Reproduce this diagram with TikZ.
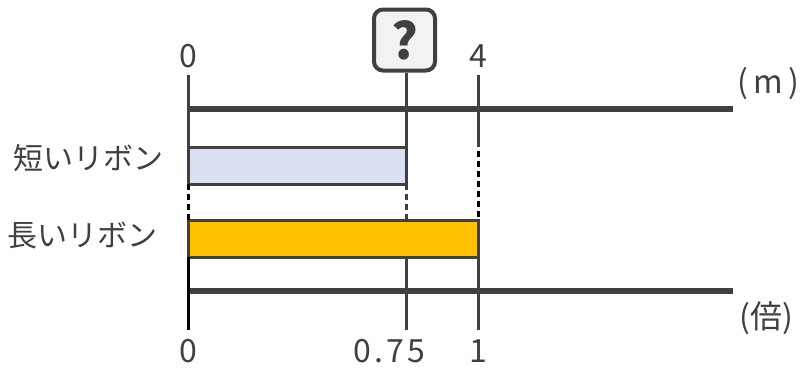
\documentclass[tikz,border=0pt]{standalone}
\usepackage{fontspec}
\setmainfont{Noto Sans CJK JP}
\newfontfamily\numfont{Noto Sans CJK JP}[LetterSpace=10]
\usetikzlibrary{positioning}
\definecolor{linegray}{HTML}{404040}
\definecolor{shortfill}{HTML}{DAE0F2}
\definecolor{longfill}{HTML}{FFC000}
\definecolor{boxfill}{HTML}{F2F2F2}

\begin{document}
\begin{tikzpicture}[x=1pt, y=-1pt]
		\tikzstyle{axis} = [draw=linegray, line width=6pt]
		\tikzstyle{tick} = [draw=linegray, line width=3pt]
		\tikzstyle{guide} = [line width=3pt, dash pattern=on 6pt off 4pt]
		\tikzstyle{ribbon} = [draw=linegray, line width=3pt, anchor=north west, minimum height=37pt, inner sep=0pt, outer sep=0pt]
		\tikzstyle{label} = [text=linegray, inner sep=0pt, font=\fontsize{30}{30}\selectfont]
		\tikzstyle{num} = [text=linegray, inner sep=0pt, font=\fontsize{32}{32}\selectfont\numfont]
		\useasboundingbox (0,0) rectangle (803,367);

		% scale points
		\coordinate (t0) at (188,75);
		\coordinate (tq) at (406,73);
		\coordinate (t4) at (478,75);
		\coordinate (b0) at (188,330);
		\coordinate (bq) at (406,330);
		\coordinate (b1) at (478,330);

		% ribbons
		\node[ribbon, fill=shortfill, minimum width=218pt] (short) at (188,147) {};
		\node[ribbon, fill=longfill, minimum width=290pt] (long) at (188,220) {};

		% axes
		\coordinate (top a) at (188,109);
		\coordinate (top b) at (733,109);
		\coordinate (bot a) at (188,291);
		\coordinate (bot b) at (733,291);
		\draw[axis] (top a) -- (top b);
		\draw[axis] (bot a) -- (bot b);

		% solid ticks
		\draw[tick] (t0) -- (short.north west);
		\draw[tick] (tq) -- (short.north east);
		\draw[tick] (t4) -- (478,147);
		\draw[tick, draw=black] (long.south west) -- (b0);
		\draw[tick] (406,257) -- (bq);
		\draw[tick] (long.south east) -- (b1);

		% dashed guides
		\draw[guide, black] (short.south west) -- (long.north west);
		\draw[guide, linegray] (short.south east) -- (406,220);
		\draw[guide, black] (478,151) -- (long.north east);

		% question box
		\node[draw=linegray, line width=4pt, fill=boxfill, rounded corners=9pt, minimum size=61pt, inner sep=0pt, font=\fontsize{50}{50}\selectfont\bfseries, text=linegray] (q) at (404.5,40) {?};

		% numbers
		\node[num] (n0) at (188,56) {0};
		\node[num] (n4) at (478,56) {4};
		\node[num] (m0) at (188,351) {0};
		\node[num] (m75) at (389,351) {0.75};
		\node[num] (m1) at (478,351) {1};
		\node[label, anchor=west, font=\fontsize{32}{32}\selectfont] (unit m) at (737,84) {(\,m\,)};
		\node[label, anchor=west, font=\fontsize{32}{32}\selectfont] (unit x) at (739,318) {(倍)};

		% names
		\node[label] (short name) at (88,158) {短いリボン};
		\node[label] (long name) at (83,235) {長いリボン};
\end{tikzpicture}
\end{document}
